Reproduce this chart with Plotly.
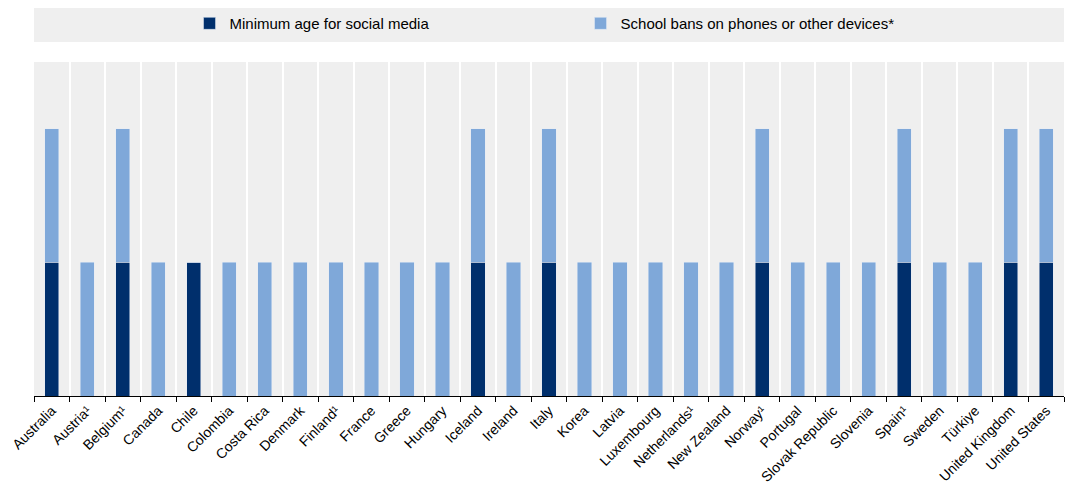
import plotly.graph_objects as go

countries = ["Australia", "Austria¹", "Belgium¹", "Canada", "Chile", "Colombia", "Costa Rica",
             "Denmark", "Finland¹", "France", "Greece", "Hungary", "Iceland", "Ireland", "Italy",
             "Korea", "Latvia", "Luxembourg", "Netherlands¹", "New Zealand", "Norway¹", "Portugal",
             "Slovak Republic", "Slovenia", "Spain¹", "Sweden", "Türkiye", "United Kingdom",
             "United States"]
min_age = [1, 0, 1, 0, 1, 0, 0, 0, 0, 0, 0, 0, 1, 0, 1, 0, 0, 0, 0, 0, 1, 0, 0, 0, 1, 0, 0, 1, 1]
school_bans = [1, 1, 1, 1, 0, 1, 1, 1, 1, 1, 1, 1, 1, 1, 1, 1, 1, 1, 1, 1, 1, 1, 1, 1, 1, 1, 1, 1, 1]

fig = go.Figure()
fig.add_trace(go.Bar(x=countries, y=min_age, name="Minimum age for social media",
                     marker_color="#002f6c", width=0.4))
fig.add_trace(go.Bar(x=countries, y=school_bans, name="School bans on phones or other devices*",
                     marker_color="#7fa8d9", width=0.4))

# grey band behind the legend
fig.add_shape(type="rect", xref="paper", yref="paper", x0=0, x1=1, y0=1.06, y1=1.17,
              fillcolor="#efefef", line_width=0, layer="below")

# the page has an 8px body margin, so the figure is a bit smaller than the window
fig.update_layout(
    barmode="stack",
    width=1072, height=485,
    margin=dict(l=26, r=16, t=54, b=97, autoexpand=False),
    paper_bgcolor="white",
    plot_bgcolor="#efefef",
    font=dict(family="Liberation Sans, Arial, sans-serif", size=14, color="black"),
    showlegend=True,
    legend=dict(orientation="h", x=0.151, xanchor="left", y=1.115, yanchor="middle",
                bgcolor="rgba(0,0,0,0)", entrywidth=346, font=dict(size=15),
                traceorder="normal"),
    bargap=0.6,
)
fig.update_xaxes(tickangle=-45, tickson="boundaries", ticks="outside", ticklen=5,
                 tickcolor="black", showline=True, linecolor="black", linewidth=1,
                 showgrid=True, gridcolor="white", gridwidth=2, automargin=False)
fig.update_yaxes(range=[0, 2.5], showticklabels=False, showgrid=False, zeroline=False,
                 automargin=False)

fig.write_html("out.html")
